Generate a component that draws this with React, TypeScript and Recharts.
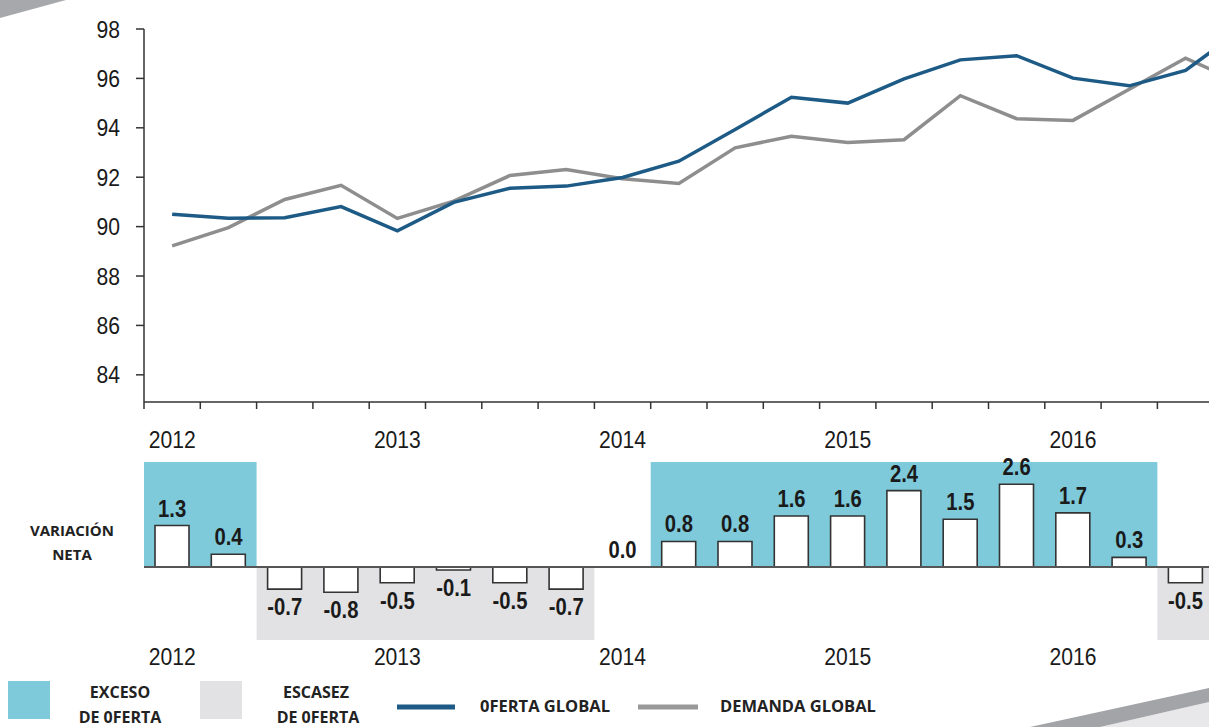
import React from "react";
import { LineChart, Line, XAxis, YAxis, ComposedChart, Bar, LabelList, ReferenceArea, ReferenceLine } from "recharts";

// trimestres 2012 T1 .. 2016 T4 (el último queda cortado a la derecha)
const quarters = [
    "2012 T1", "2012 T2", "2012 T3", "2012 T4",
    "2013 T1", "2013 T2", "2013 T3", "2013 T4",
    "2014 T1", "2014 T2", "2014 T3", "2014 T4",
    "2015 T1", "2015 T2", "2015 T3", "2015 T4",
    "2016 T1", "2016 T2", "2016 T3", "2016 T4",
];
const yearLabels = ["2012", "2013", "2014", "2015", "2016"];

const ofertaGlobal = [90.5, 90.34, 90.36, 90.81, 89.83, 90.98, 91.55, 91.64, 91.99, 92.65, 93.93, 95.24, 95.0, 95.98, 96.75, 96.92, 96.01, 95.7, 96.32, 98.0];
const demandaGlobal = [89.22, 89.96, 91.1, 91.67, 90.33, 91.03, 92.07, 92.31, 91.94, 91.75, 93.19, 93.66, 93.41, 93.52, 95.3, 94.37, 94.3, 95.56, 96.82, 95.8];
const variacionNeta: (number | null)[] = [1.3, 0.4, -0.7, -0.8, -0.5, -0.1, -0.5, -0.7, 0.0, 0.8, 0.8, 1.6, 1.6, 2.4, 1.5, 2.6, 1.7, 0.3, -0.5, null];

// tramos [desde, hasta] en índices de trimestre
const excesoTramos = [[0, 1], [9, 17]];
const escasezTramos = [[2, 7], [18, 19]];

const yTicks = [84, 86, 88, 90, 92, 94, 96, 98];

const BLUE = "#1d5b86";
const GRAY = "#8e8e8e";
const BOX_BLUE = "#7ecadb";
const BOX_GRAY = "#e2e2e4";
const AXIS = "#333";
const FONT = "'Liberation Sans', Arial, sans-serif";
const LEGEND_FONT = "'Open Sans', 'Noto Sans', sans-serif";
const NARROW = 0.88; // el original está algo estrechado en horizontal

const CHART_W = 1300;
const LEFT = 144;
const RIGHT = 30;
const BAND = (CHART_W - LEFT - RIGHT) / quarters.length;

const lineData = quarters.map((q, i) => ({ pos: i + 0.5, q, oferta: ofertaGlobal[i], demanda: demandaGlobal[i] }));
const barData = quarters.map((q, i) => ({ q, neta: variacionNeta[i] }));

const NarrowText = ({ x, y, anchor, size, bold, children }: any) => (
    <text
        transform={`translate(${x},${y}) scale(${NARROW},1)`}
        textAnchor={anchor}
        fontSize={size}
        fontWeight={bold ? "bold" : "normal"}
        fontFamily={FONT}
        fill="#1a1a1a"
    >
        {children}
    </text>
);

const YTick = (props: any) => {
    const { x, y, payload } = props;
    return <NarrowText x={x} y={y + 8.5} anchor="end" size={24}>{payload.value}</NarrowText>;
};

const TopTick = (props: any) => {
    const { x, y, payload } = props;
    const i = payload.value;
    if (i % 4 !== 0 || i >= quarters.length) return <g />;
    return <NarrowText x={x + BAND / 2} y={y + 37} anchor="middle" size={24}>{yearLabels[i / 4]}</NarrowText>;
};

const BottomTick = (props: any) => {
    const { x, y, payload } = props;
    const i = quarters.indexOf(payload.value);
    if (i % 4 !== 0) return <g />;
    return <NarrowText x={x} y={y + 25} anchor="middle" size={24}>{yearLabels[i / 4]}</NarrowText>;
};

const BarValue = (props: any) => {
    const { x, y, value } = props;
    if (value === null || value === undefined) return null;
    const ty = value < 0 ? y + 18 : y - 17;
    return <NarrowText x={x} y={ty + 8} anchor="middle" size={23} bold>{value.toFixed(1)}</NarrowText>;
};

export default function App() {
    return (
        <div style={{ position: "absolute", left: 0, top: 0, width: 1209, height: 727, overflow: "hidden", background: "#fff" }}>
            <div style={{ position: "absolute", left: 0, top: 0 }}>
                <LineChart width={CHART_W} height={455} data={lineData} margin={{ top: 29, right: RIGHT, bottom: 0, left: 0 }}>
                    <XAxis
                        type="number"
                        dataKey="pos"
                        domain={[0, quarters.length]}
                        ticks={[...quarters.map((_, i) => i), quarters.length]}
                        height={53}
                        stroke={AXIS}
                        strokeWidth={1.5}
                        tickSize={7}
                        tickMargin={2}
                        tick={<TopTick />}
                    />
                    <YAxis
                        domain={[82.9, 98]}
                        ticks={yTicks}
                        width={LEFT}
                        allowDataOverflow
                        stroke={AXIS}
                        strokeWidth={1.5}
                        tickSize={8}
                        tickMargin={16}
                        tick={<YTick />}
                    />
                    <Line type="linear" dataKey="demanda" stroke={GRAY} strokeWidth={3.5} dot={false} isAnimationActive={false} />
                    <Line type="linear" dataKey="oferta" stroke={BLUE} strokeWidth={3.5} dot={false} isAnimationActive={false} />
                </LineChart>
            </div>

            <div style={{ position: "absolute", left: 0, top: 455 }}>
                <ComposedChart width={CHART_W} height={245} data={barData} margin={{ top: 7, right: RIGHT, bottom: 0, left: LEFT }}>
                    <XAxis dataKey="q" interval={0} height={60} axisLine={false} tickLine={false} tickSize={0} tickMargin={0} tick={<BottomTick />} />
                    <YAxis hide domain={[-2.3, 3.3]} allowDataOverflow />
                    {excesoTramos.map(([a, b]) => (
                        <ReferenceArea key={"e" + a} x1={quarters[a]} x2={quarters[b]} y1={0} y2={3.3} fill={BOX_BLUE} fillOpacity={1} stroke="none" />
                    ))}
                    {escasezTramos.map(([a, b]) => (
                        <ReferenceArea key={"s" + a} x1={quarters[a]} x2={quarters[b]} y1={-2.3} y2={0} fill={BOX_GRAY} fillOpacity={1} stroke="none" />
                    ))}
                    <Bar dataKey="neta" fill="#fff" stroke={AXIS} strokeWidth={1.6} barSize={34} isAnimationActive={false} />
                    <ReferenceLine y={0} stroke="#555" strokeWidth={2} />
                    {/* serie invisible sólo para las etiquetas (incluye el 0.0) */}
                    <Line dataKey="neta" stroke="none" dot={false} activeDot={false} isAnimationActive={false}>
                        <LabelList dataKey="neta" content={<BarValue />} />
                    </Line>
                </ComposedChart>
            </div>

            <svg width={1209} height={727} style={{ position: "absolute", left: 0, top: 0, pointerEvents: "none" }}>
                <polygon points="0,0 66,0 0,18" fill="#a7a8ab" />
                <polygon points="1100,727 1209,702 1209,727" fill="#e8e8ea" />
                <polygon points="1030,727 1209,688 1209,702 1100,727" fill="#a3a4a8" />

                <g fontFamily={LEGEND_FONT} fontWeight="bold" fill="#222" textAnchor="middle">
                    <text x={72} y={536} fontSize={15}>VARIACIÓN</text>
                    <text x={72} y={560} fontSize={15}>NETA</text>

                    <rect x={8} y={681} width={42} height={38} fill={BOX_BLUE} />
                    <text x={120} y={698} fontSize={16}>EXCESO</text>
                    <text x={120} y={723} fontSize={16}>DE 0FERTA</text>

                    <rect x={200} y={681} width={42} height={38} fill={BOX_GRAY} />
                    <text x={316} y={698} fontSize={16}>ESCASEZ</text>
                    <text x={318} y={723} fontSize={16}>DE 0FERTA</text>
                </g>
                <line x1={397} y1={707} x2={455} y2={707} stroke={BLUE} strokeWidth={5} />
                <line x1={638} y1={707} x2={698} y2={707} stroke="#999" strokeWidth={5} />
                <g fontFamily={LEGEND_FONT} fontWeight="bold" fontSize={16.5} fill="#222">
                    <text x={480} y={712}>0FERTA GLOBAL</text>
                    <text x={720} y={712}>DEMANDA GLOBAL</text>
                </g>
            </svg>
        </div>
    );
}
